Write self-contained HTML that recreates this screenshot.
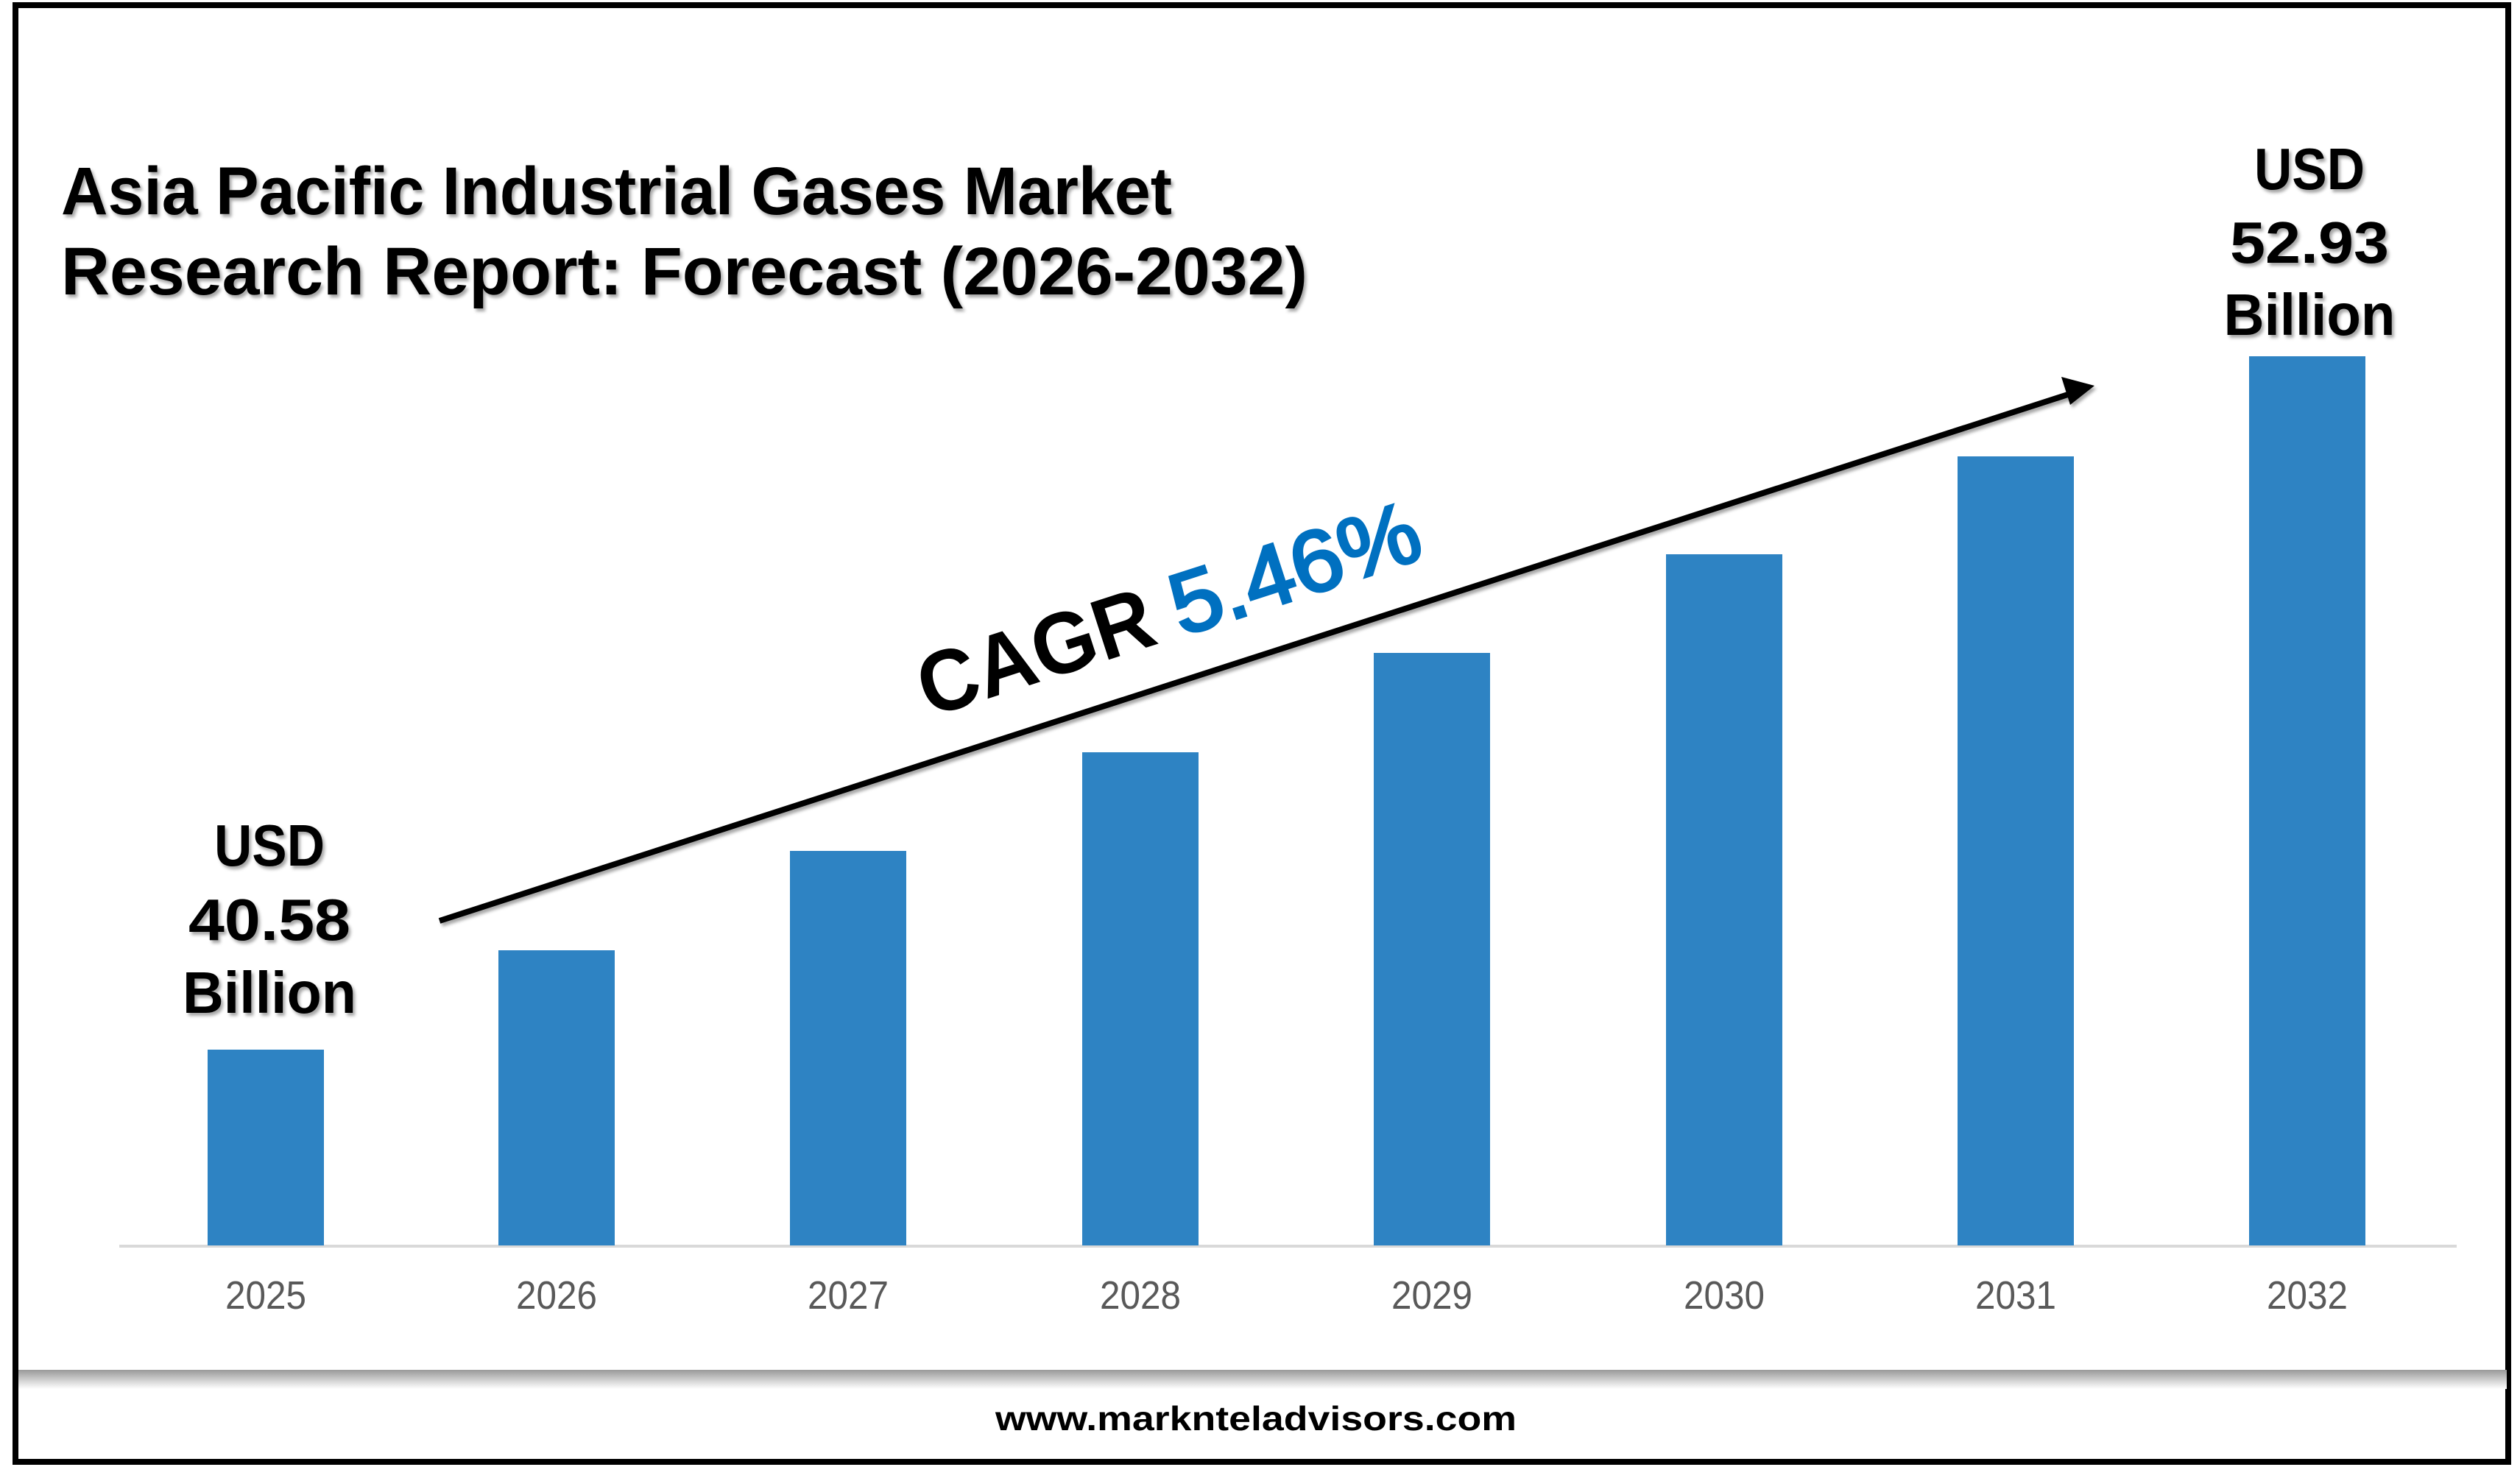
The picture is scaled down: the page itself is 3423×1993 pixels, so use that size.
<!DOCTYPE html>
<html><head><meta charset="utf-8"><style>
html,body{margin:0;padding:0;background:#fff;}
svg{display:block;}
text{font-family:"Liberation Sans",sans-serif;}
</style></head><body>
<svg width="3423" height="1993" viewBox="0 0 3423 1993" xmlns="http://www.w3.org/2000/svg">
<defs>
<linearGradient id="sh" x1="0" y1="0" x2="0" y2="1">
<stop offset="0" stop-color="#999"/><stop offset="1" stop-color="#fff"/>
</linearGradient>
<filter id="ds" x="-5%" y="-20%" width="110%" height="140%">
<feDropShadow dx="3" dy="4" stdDeviation="2" flood-color="#000" flood-opacity="0.35"/>
</filter>
</defs>
<rect x="0" y="0" width="3423" height="1993" fill="#fff"/>
<rect x="21" y="7" width="3386" height="1979" fill="none" stroke="#000" stroke-width="8"/>
<rect x="25" y="1861" width="3380" height="26" fill="url(#sh)"/>
<rect x="162" y="1691" width="3175" height="4" fill="#d9d9d9"/>
<g fill="#2e83c3">
<rect x="282" y="1426" width="158" height="266"/>
<rect x="677" y="1291" width="158" height="401"/>
<rect x="1073" y="1156" width="158" height="536"/>
<rect x="1470" y="1022" width="158" height="670"/>
<rect x="1866" y="887" width="158" height="805"/>
<rect x="2263" y="753" width="158" height="939"/>
<rect x="2659" y="620" width="158" height="1072"/>
<rect x="3055" y="484" width="158" height="1208"/>
</g>
<g fill="#595959" font-size="54" text-anchor="middle">
<text x="361" y="1778" textLength="110" lengthAdjust="spacingAndGlyphs">2025</text>
<text x="756" y="1778" textLength="110" lengthAdjust="spacingAndGlyphs">2026</text>
<text x="1152" y="1778" textLength="110" lengthAdjust="spacingAndGlyphs">2027</text>
<text x="1549" y="1778" textLength="110" lengthAdjust="spacingAndGlyphs">2028</text>
<text x="1945" y="1778" textLength="110" lengthAdjust="spacingAndGlyphs">2029</text>
<text x="2342" y="1778" textLength="110" lengthAdjust="spacingAndGlyphs">2030</text>
<text x="2738" y="1778" textLength="110" lengthAdjust="spacingAndGlyphs">2031</text>
<text x="3134" y="1778" textLength="110" lengthAdjust="spacingAndGlyphs">2032</text>
</g>
<g font-weight="bold" font-size="92" fill="#000" filter="url(#ds)">
<text x="83" y="291" textLength="1509" lengthAdjust="spacingAndGlyphs">Asia Pacific Industrial Gases Market</text>
<text x="83" y="400" textLength="1693" lengthAdjust="spacingAndGlyphs">Research Report: Forecast (2026-2032)</text>
</g>
<g font-weight="bold" font-size="80" fill="#000" text-anchor="middle" filter="url(#ds)">
<text x="366" y="1176" textLength="150" lengthAdjust="spacingAndGlyphs">USD</text>
<text x="366" y="1277" textLength="220" lengthAdjust="spacingAndGlyphs">40.58</text>
<text x="366" y="1376" textLength="236" lengthAdjust="spacingAndGlyphs">Billion</text>
<text x="3137" y="257" textLength="150" lengthAdjust="spacingAndGlyphs">USD</text>
<text x="3137" y="357" textLength="216" lengthAdjust="spacingAndGlyphs">52.93</text>
<text x="3137" y="455" textLength="233" lengthAdjust="spacingAndGlyphs">Billion</text>
</g>
<g filter="url(#ds)">
<line x1="597" y1="1251" x2="2815" y2="534" stroke="#000" stroke-width="8"/>
<polygon points="2845,524 2800,512 2812,550" fill="#000"/>
</g>
<g transform="translate(1262,975) rotate(-17.9)">
<text x="0" y="0" font-size="118" font-weight="bold" fill="#000" textLength="330" lengthAdjust="spacingAndGlyphs">CAGR</text>
<text x="360" y="0" font-size="118" fill="#0070c0" stroke="#0070c0" stroke-width="4" textLength="350" lengthAdjust="spacingAndGlyphs">5.46%</text>
</g>
<text x="1706" y="1943" font-size="46" font-weight="bold" fill="#000" text-anchor="middle" textLength="708" lengthAdjust="spacingAndGlyphs">www.marknteladvisors.com</text>
</svg>
</body></html>
